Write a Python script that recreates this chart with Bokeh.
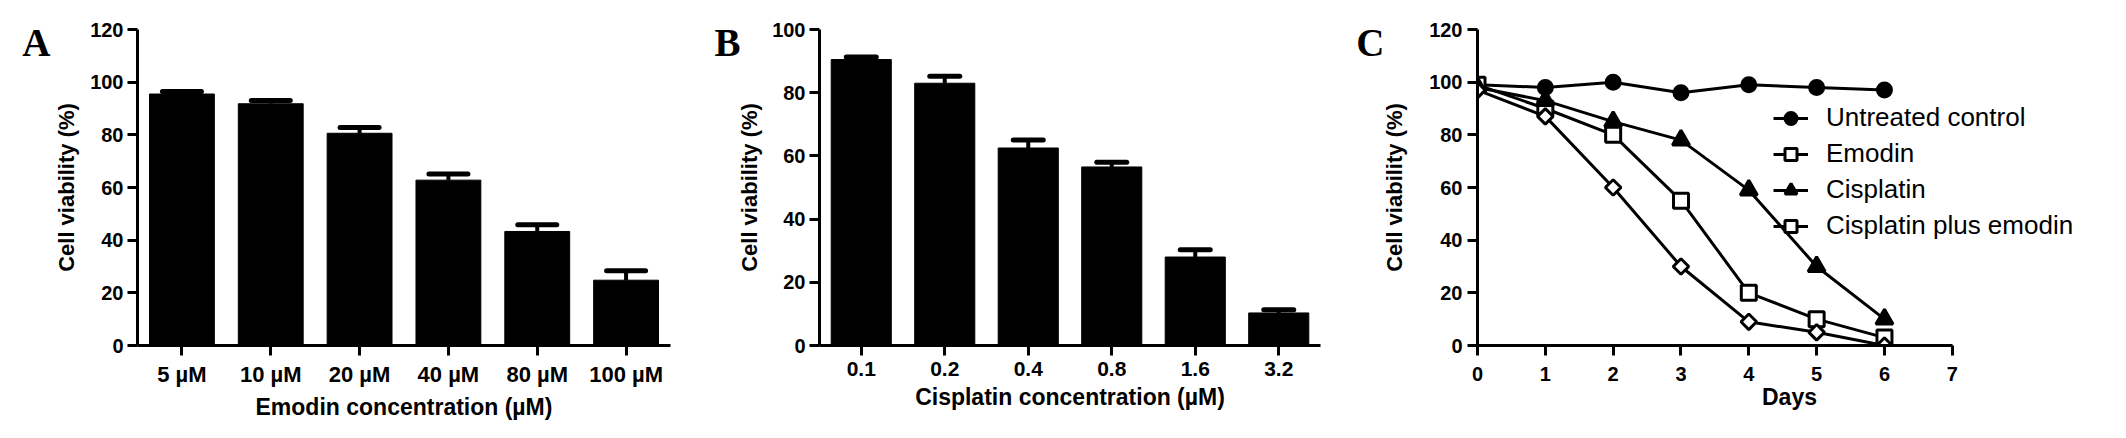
from bokeh.plotting import figure
from bokeh.layouts import row
from bokeh.models import (ColumnDataSource, FixedTicker, Range1d, FactorRange,
                          Legend, LegendItem, Whisker, TeeHead, LinearAxis)
from bokeh.embed import file_html
from bokeh.resources import INLINE

# ---------------- data ----------------
emodin_conc = ["5 µM", "10 µM", "20 µM", "40 µM", "80 µM", "100 µM"]
emodin_viab = [95.5, 91.8, 80.6, 62.8, 43.3, 24.8]
emodin_err = [1.0, 1.2, 2.2, 2.3, 2.6, 3.6]

cis_conc = ["0.1", "0.2", "0.4", "0.8", "1.6", "3.2"]
cis_viab = [90.5, 83.0, 62.5, 56.5, 28.0, 10.3]
cis_err = [0.8, 2.2, 2.5, 1.5, 2.3, 1.0]

days = [0, 1, 2, 3, 4, 5, 6]
untreated = [99, 98, 100, 96, 99, 98, 97]
emodin_time = [99, 90, 80, 55, 20, 10, 3]
cisplatin_time = [98, 93, 85, 78, 59, 30, 10]
combo_time = [97, 87, 60, 30, 9, 5, 0]

SANS = "Liberation Sans"
SERIF = "Liberation Serif"


def style(p, xt_size, yt_size, xt_std, yt_std, xl_std, yl_std):
    for ax in list(p.xaxis) + list(p.yaxis):
        ax.axis_line_width = 3
        ax.axis_line_color = "black"
        ax.major_tick_line_width = 3
        ax.major_tick_line_color = "black"
        ax.major_tick_out = 10
        ax.major_tick_in = 0
        ax.minor_tick_line_color = None
        ax.major_label_text_font = SANS
        ax.major_label_text_font_style = "bold"
        ax.major_label_text_color = "black"
        ax.axis_label_text_font = SANS
        ax.axis_label_text_font_style = "bold"
        ax.axis_label_text_color = "black"
    p.xaxis.major_label_text_font_size = xt_size
    p.yaxis.major_label_text_font_size = yt_size
    p.xaxis.major_label_standoff = xt_std
    p.yaxis.major_label_standoff = yt_std
    p.xaxis.axis_label_standoff = xl_std
    p.yaxis.axis_label_standoff = yl_std
    p.xaxis.axis_label_text_font_size = "23px"
    p.yaxis.axis_label_text_font_size = "22px"
    p.grid.visible = False
    p.outline_line_color = None


def letter(p, text, at, standoff):
    # panel letter drawn as the only tick label of an extra, invisible left axis
    ax = LinearAxis(ticker=FixedTicker(ticks=[at]), major_label_overrides={at: text},
                    axis_line_color=None, major_tick_line_color=None,
                    minor_tick_line_color=None, major_tick_out=0, major_tick_in=0,
                    major_label_standoff=standoff,
                    major_label_text_font=SERIF, major_label_text_font_style="bold",
                    major_label_text_font_size="39px", major_label_text_color="black")
    p.add_layout(ax, "left")


def bar_panel(cats, vals, errs, ymax, width, bl, br, bt, fh, bw, cap, xlabel, xt_size,
              xt_std, xl_std, yl_std):
    p = figure(x_range=FactorRange(factors=cats), y_range=Range1d(0, ymax),
               width=width, height=422, min_border_left=bl, min_border_right=br,
               min_border_top=bt, min_border_bottom=422 - bt - fh,
               output_backend="svg", toolbar_location=None)
    src = ColumnDataSource(dict(cat=cats, val=vals,
                                up=[v + e for v, e in zip(vals, errs)]))
    p.vbar(x="cat", top="val", width=bw, source=src, fill_color="black",
           line_color="black", line_width=1)
    p.add_layout(Whisker(source=src, base="cat", upper="up", lower="val",
                         line_width=4, line_color="black",
                         upper_head=TeeHead(size=cap, line_width=5, line_color="black",
                                            line_cap="round"),
                         lower_head=None))
    p.yaxis.ticker = FixedTicker(ticks=list(range(0, ymax + 1, 20)))
    p.xaxis.axis_label = xlabel
    p.yaxis.axis_label = "Cell viability (%)"
    style(p, xt_size, "20px", xt_std, 4, xl_std, yl_std)
    return p


pA = bar_panel(emodin_conc, emodin_viab, emodin_err, 120, 687, 137, 17, 27, 318,
               0.73, 39, "Emodin concentration (µM)", "22px", 6, 4, 8)
letter(pA, "A", 115, 1)

pB = bar_panel(cis_conc, cis_viab, cis_err, 100, 645, 132, 12, 29, 316,
               0.72, 30, "Cisplatin concentration (µM)", "21px", 6, 5, 7)
letter(pB, "B", 96, -6)

# ---------------- panel C ----------------
pC = figure(x_range=Range1d(0, 9.2), y_range=Range1d(0, 120), width=778, height=422,
            min_border_left=145, min_border_right=9, min_border_top=27,
            min_border_bottom=77, output_backend="svg", toolbar_location=None)
pC.xaxis.bounds = (0, 7)
pC.xaxis.ticker = FixedTicker(ticks=list(range(0, 8)))
pC.yaxis.ticker = FixedTicker(ticks=list(range(0, 121, 20)))
pC.xaxis.axis_label = "Days"
pC.yaxis.axis_label = "Cell viability (%)"
style(pC, "20px", "20px", 11, 5, 0, 19)

series = [
    ("Untreated control", untreated, "circle", 14, "black", 0.0),
    ("Emodin", emodin_time, "square", 15, "white", 0.0),
    ("Cisplatin", cisplatin_time, "triangle", 17, "black", 0.0),
    ("Cisplatin plus emodin", combo_time, "square", 11, "white", 0.7853981634),
]
items = []
for name, ys, marker, size, fill, ang in series:
    src = ColumnDataSource(dict(x=days, y=ys))
    ln = pC.line("x", "y", source=src, line_color="black", line_width=3)
    sc = pC.scatter("x", "y", source=src, marker=marker, size=size, angle=ang,
                    fill_color=fill, line_color="black", line_width=3)
    items.append(LegendItem(label=name, renderers=[ln, sc]))

legend = Legend(items=items, location=(296, 104), glyph_width=35, glyph_height=30,
                label_height=30, label_standoff=18, spacing=5, padding=0, margin=0,
                border_line_color=None, background_fill_alpha=0,
                label_text_font=SANS, label_text_font_size="26px",
                label_text_color="black")
pC.add_layout(legend)
letter(pC, "C", 115, -5)

layout = row(pA, pB, pC)
open("out.html", "w").write(file_html(layout, INLINE))
